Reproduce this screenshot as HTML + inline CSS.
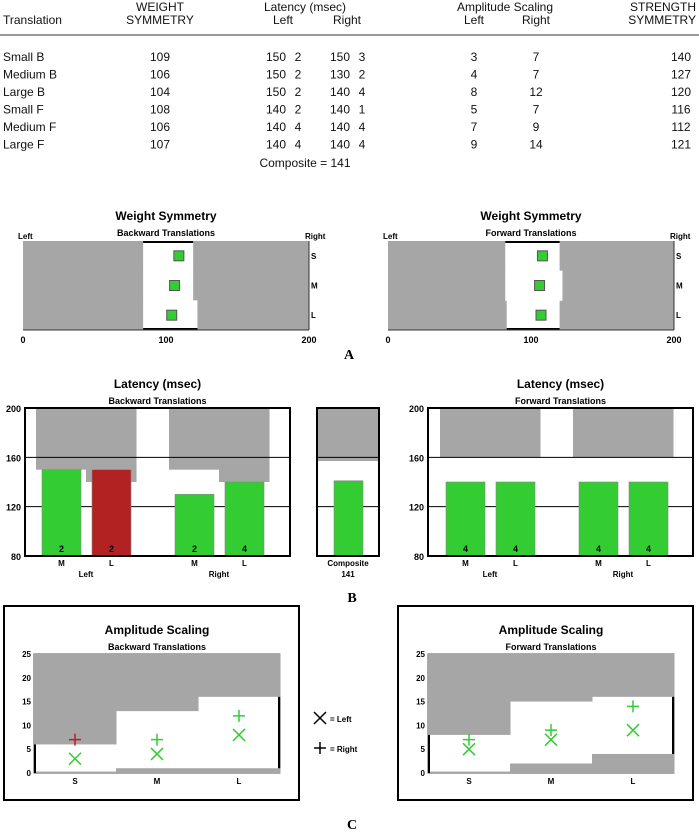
<!DOCTYPE html>
<html><head><meta charset="utf-8"><style>
html,body{margin:0;padding:0;background:#fff;}
svg{display:block;font-family:"Liberation Sans",sans-serif;}
</style></head><body>
<svg id="s" width="699" height="833" viewBox="0 0 699 833" xmlns="http://www.w3.org/2000/svg">
<g font-size="12" fill="#111">
<text x="3" y="24">Translation</text>
<text x="160" y="11" text-anchor="middle">WEIGHT</text>
<text x="160" y="24" text-anchor="middle">SYMMETRY</text>
<text x="305" y="11" text-anchor="middle">Latency (msec)</text>
<text x="283" y="24" text-anchor="middle">Left</text>
<text x="347" y="24" text-anchor="middle">Right</text>
<text x="505" y="11" text-anchor="middle">Amplitude Scaling</text>
<text x="474" y="24" text-anchor="middle">Left</text>
<text x="536" y="24" text-anchor="middle">Right</text>
<text x="696" y="11" text-anchor="end">STRENGTH</text>
<text x="696" y="24" text-anchor="end">SYMMETRY</text>
<line x1="0" y1="35" x2="699" y2="35" stroke="#333" stroke-width="1"/>
<g id="rows"></g>
<text x="305" y="167" text-anchor="middle">Composite = 141</text>
</g>
<g id="charts"></g>
<text x="349" y="359" text-anchor="middle" font-family="Liberation Serif,serif" font-weight="bold" font-size="14">A</text>
<text x="352" y="602" text-anchor="middle" font-family="Liberation Serif,serif" font-weight="bold" font-size="14">B</text>
<text x="352" y="829" text-anchor="middle" font-family="Liberation Serif,serif" font-weight="bold" font-size="14">C</text>
</svg>
<script>
// ---- data ----
const rowNames=["Small B","Medium B","Large B","Small F","Medium F","Large F"];
const weightSym=[109,106,104,108,106,107];
const latLeft=[150,150,150,140,140,140];
const latLeftN=[2,2,2,2,4,4];
const latRight=[150,130,140,140,140,140];
const latRightN=[3,2,4,1,4,4];
const ampLeft=[3,4,8,5,7,9];
const ampRight=[7,7,12,7,9,14];
const strengthSym=[140,127,120,116,112,121];
const sizes=["S","M","L"];
const wsNormB=[[84,119],[84,119],[84,122]];
const wsNormF=[[82,120],[82,122],[83,120]];
const latBarsB=[150,150,130,140];
const latNumB=["2","2","2","4"];
const latNormB=[150,140,150,140];
const latBarsF=[140,140,140,140];
const latNumF=["4","4","4","4"];
const latNormF=[160,160,160,160];
const composite=141;
const compositeNorm=157;
const latTicks=[80,120,160,200];
const ampTicks=[0,5,10,15,20,25];
const ampNormTopB=[6,13,16], ampNormBotB=[0.3,1,1];
const ampNormTopF=[8,15,16], ampNormBotF=[0.3,2,4];
const ampLeftB=[3,4,8], ampRightB=[7,7,12];
const ampLeftF=[5,7,9], ampRightF=[7,9,14];

const NS="http://www.w3.org/2000/svg";
function el(tag,attrs,parent,txt){const e=document.createElementNS(NS,tag);for(const k in attrs)e.setAttribute(k,attrs[k]);if(txt!==undefined)e.textContent=txt;parent.appendChild(e);return e;}
const GREEN="#33cc33",GRAY="#a6a6a6",RED="#b22222";

const rows=document.getElementById('rows');
rowNames.forEach((n,i)=>{
  const y=61+i*17.5;
  const g=el('g',{},rows);
  
  
  el('text',{x:3,y:y},g,n);
  el('text',{x:160,y:y,'text-anchor':'middle'},g,weightSym[i]);
  el('text',{x:276,y:y,'text-anchor':'middle'},g,latLeft[i]);
  el('text',{x:298,y:y,'text-anchor':'middle'},g,latLeftN[i]);
  el('text',{x:340,y:y,'text-anchor':'middle'},g,latRight[i]);
  el('text',{x:362,y:y,'text-anchor':'middle'},g,latRightN[i]);
  el('text',{x:474,y:y,'text-anchor':'middle'},g,ampLeft[i]);
  el('text',{x:536,y:y,'text-anchor':'middle'},g,ampRight[i]);
  el('text',{x:681,y:y,'text-anchor':'middle'},g,strengthSym[i]);
});

const C=document.getElementById('charts');
function titles(g,cx,y,t,s){
  el('text',{x:cx,y:y,'text-anchor':'middle','font-size':12,'font-weight':'bold'},g,t);
  el('text',{x:cx,y:y+16,'text-anchor':'middle','font-size':9,'font-weight':'bold'},g,s);
}

function weightChart(x0,x1,norms,vals,sub,name){
  const g=el('g',{},C);
  
  
  const y0=241,y1=330,rh=(y1-y0)/3;
  const X=v=>x0+(v/200)*(x1-x0);
  titles(g,(x0+x1)/2,220,"Weight Symmetry",sub);
  el('text',{x:x0-5,y:239,'font-size':8,'font-weight':'bold'},g,"Left");
  el('text',{x:x1-4,y:239,'font-size':8,'font-weight':'bold'},g,"Right");
  el('rect',{x:x0,y:y0,width:x1-x0,height:y1-y0,fill:GRAY},g);
  norms.forEach((r,i)=>{
    el('rect',{x:X(r[0]),y:y0+rh*i,width:X(r[1])-X(r[0]),height:rh+0.5,fill:'#fff'},g);
  });
  el('line',{x1:X(norms[0][0]),x2:X(norms[0][1]),y1:y0+1,y2:y0+1,stroke:'#000','stroke-width':2},g);
  el('line',{x1:X(norms[2][0]),x2:X(norms[2][1]),y1:y1-1,y2:y1-1,stroke:'#000','stroke-width':2},g);
  el('line',{x1:x0,x2:x1,y1:y1,y2:y1,stroke:'#333','stroke-width':1},g);
  el('line',{x1:x1,x2:x1,y1:y0,y2:y1,stroke:'#333','stroke-width':1},g);
  vals.forEach((v,i)=>{
    const m=el('rect',{x:X(v)-5,y:y0+rh*i+rh/2-5,width:10,height:10,fill:GREEN,stroke:'#555','stroke-width':1},g);
    
    
    el('text',{x:x1+2,y:y0+rh*i+rh/2+3,'font-size':8,'font-weight':'bold'},g,sizes[i]);
  });
  [0,100,200].forEach(t=>el('text',{x:X(t),y:343,'text-anchor':'middle','font-size':9,'font-weight':'bold'},g,t));
}
weightChart(23,309,wsNormB,weightSym.slice(0,3),"Backward Translations","weight-symmetry-backward");
weightChart(388,674,wsNormF,weightSym.slice(3,6),"Forward Translations","weight-symmetry-forward");

const LY=v=>556-(v-80)*(148/120);
function latChart(x0,x1,groups,bars,nums,norms,colors,sub,name){
  const g=el('g',{},C);
  
  
  titles(g,(x0+x1)/2,388,"Latency (msec)",sub);
  el('rect',{x:x0,y:LY(200),width:x1-x0,height:LY(80)-LY(200),fill:'#fff'},g);
  groups.forEach((gr,gi)=>{
    for(let k=0;k<2;k++){
      const idx=gi*2+k,gx=gr[0]+k*(gr[1]-gr[0])/2;
      el('rect',{x:gx,y:LY(200),width:(gr[1]-gr[0])/2+0.5,height:LY(norms[idx])-LY(200),fill:GRAY},g);
    }
  });
  latTicks.forEach(t=>{
    if(t>80&&t<200)el('line',{x1:x0,x2:x1,y1:LY(t),y2:LY(t),stroke:'#000','stroke-width':1},g);
    el('text',{x:x0-4,y:LY(t)+4,'text-anchor':'end','font-size':9,'font-weight':'bold'},g,t);
  });
  groups.forEach((gr,gi)=>{
    for(let k=0;k<2;k++){
      const idx=gi*2+k,w=(gr[1]-gr[0])/2,bx=gr[0]+k*w+6,bw=w-11;
      const b=el('rect',{x:bx,y:LY(bars[idx]),width:bw,height:LY(80)-LY(bars[idx]),fill:colors[idx],stroke:'#888','stroke-width':0.6},g);
      
      
      el('text',{x:bx+bw/2,y:552,'text-anchor':'middle','font-size':9,'font-weight':'bold'},g,nums[idx]);
      el('text',{x:bx+bw/2,y:566,'text-anchor':'middle','font-size':8,'font-weight':'bold'},g,k==0?"M":"L");
    }
    el('text',{x:(gr[0]+gr[1])/2,y:577,'text-anchor':'middle','font-size':8,'font-weight':'bold'},g,gi==0?"Left":"Right");
  });
  el('rect',{x:x0,y:LY(200),width:x1-x0,height:LY(80)-LY(200),fill:'none',stroke:'#000','stroke-width':2},g);
}
latChart(25,290,[[36,136],[169,269]],latBarsB,latNumB,latNormB,[GREEN,RED,GREEN,GREEN],"Backward Translations","latency-backward");
latChart(428,693,[[440,540],[573,673]],latBarsF,latNumF,latNormF,[GREEN,GREEN,GREEN,GREEN],"Forward Translations","latency-forward");
(function(){
  const g=el('g',{},C);
  
  
  const x0=317,x1=379;
  el('rect',{x:x0,y:LY(200),width:x1-x0,height:LY(compositeNorm)-LY(200),fill:GRAY},g);
  [120,160].forEach(t=>el('line',{x1:x0,x2:x1,y1:LY(t),y2:LY(t),stroke:'#000','stroke-width':1},g));
  const b=el('rect',{x:334,y:LY(composite),width:29,height:LY(80)-LY(composite),fill:GREEN,stroke:'#888','stroke-width':0.6},g);
  
  
  el('rect',{x:x0,y:LY(200),width:x1-x0,height:LY(80)-LY(200),fill:'none',stroke:'#000','stroke-width':2},g);
  el('text',{x:348,y:566,'text-anchor':'middle','font-size':8,'font-weight':'bold'},g,"Composite");
  el('text',{x:348,y:577,'text-anchor':'middle','font-size':8,'font-weight':'bold'},g,composite);
})();

const AY=v=>773-v*(119/25);
function cross(g,x,y,col){return el('path',{d:`M${x-6} ${y-6}L${x+6} ${y+6}M${x+6} ${y-6}L${x-6} ${y+6}`,stroke:col,'stroke-width':1.5,fill:'none'},g);}
function plus(g,x,y,col){return el('path',{d:`M${x-6} ${y}H${x+6}M${x} ${y-6}V${y+6}`,stroke:col,'stroke-width':1.5,fill:'none'},g);}
function ampChart(bx0,bx1,x0,x1,top,bot,L,R,rcol,sub,name){
  const g=el('g',{},C);
  
  
  el('rect',{x:bx0,y:606,width:bx1-bx0,height:194,fill:'#fff',stroke:'#000','stroke-width':2},g);
  titles(g,(x0+x1)/2,634,"Amplitude Scaling",sub);
  const cw=(x1-x0)/3;
  el('rect',{x:x0,y:AY(25),width:x1-x0,height:AY(0)-AY(25),fill:'#fff',stroke:'#555','stroke-width':1},g);
  for(let i=0;i<3;i++){
    el('rect',{x:x0+i*cw,y:AY(25),width:cw+0.5,height:AY(top[i])-AY(25),fill:GRAY},g);
    el('rect',{x:x0+i*cw,y:AY(bot[i]),width:cw+0.5,height:AY(0)-AY(bot[i]),fill:GRAY},g);
  }
  el('line',{x1:x0+1,x2:x0+1,y1:AY(top[0]),y2:AY(0),stroke:'#000','stroke-width':2},g);
  el('line',{x1:x1-1,x2:x1-1,y1:AY(top[2]),y2:AY(bot[2]),stroke:'#000','stroke-width':2},g);
  ampTicks.forEach(t=>el('text',{x:x0-3,y:AY(t)+3,'text-anchor':'end','font-size':8,'font-weight':'bold'},g,t));
  for(let i=0;i<3;i++){
    const cx=x0+cw*(i+0.5);
    const c=cross(g,cx,AY(L[i]),GREEN);
    
    
    const p=plus(g,cx,AY(R[i]),rcol[i]);
    
    
    el('text',{x:cx,y:784,'text-anchor':'middle','font-size':8,'font-weight':'bold'},g,sizes[i]);
  }
}
ampChart(4,299,34,280,ampNormTopB,ampNormBotB,ampLeftB,ampRightB,[RED,GREEN,GREEN],"Backward Translations","amplitude-backward");
ampChart(398,693,428,674,ampNormTopF,ampNormBotF,ampLeftF,ampRightF,[GREEN,GREEN,GREEN],"Forward Translations","amplitude-forward");
(function(){
  const g=el('g',{},C);
  
  
  cross(g,320,718,'#000');
  el('text',{x:330,y:722,'font-size':8,'font-weight':'bold'},g,"= Left");
  plus(g,320,748,'#000');
  el('text',{x:330,y:752,'font-size':8,'font-weight':'bold'},g,"= Right");
})();
</script>
</body></html>
